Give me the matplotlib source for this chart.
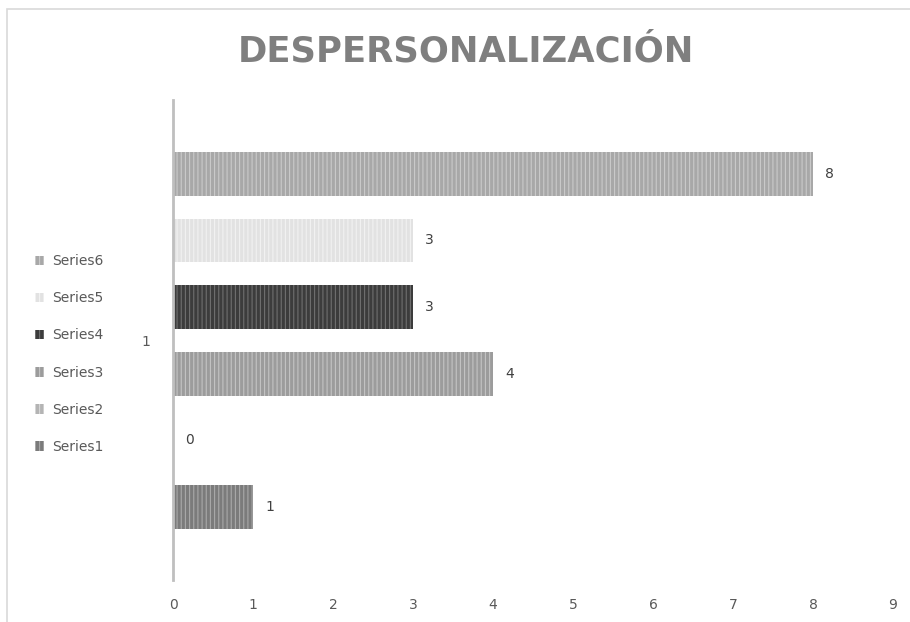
import numpy as np
import matplotlib.pyplot as plt
from matplotlib.patches import Rectangle

plt.rcParams['hatch.linewidth'] = 0.8

# datos del grafico
series = ['Series1', 'Series2', 'Series3', 'Series4', 'Series5', 'Series6']
valores = [1, 0, 4, 3, 3, 8]
colores = ['#7b7b7b', '#b4b4b4', '#9c9c9c', '#3c3c3c', '#e2e2e2', '#a8a8a8']
rayas = ['#a9a9a9', '#d6d6d6', '#c4c4c4', '#6f6f6f', '#f2f2f2', '#cacaca']
categoria = '1'
ticks_x = list(range(0, 10))

fig = plt.figure(figsize=(9.1, 6.22), dpi=100)
fig.patches.append(Rectangle((7 / 910, -0.01), 1.1, 1 - 9 / 622 + 0.01, transform=fig.transFigure,
                             fill=False, edgecolor='#d9d9d9', linewidth=1.2))
ax = fig.add_axes([173 / 910, 1 - 580 / 622, 720 / 910, 480 / 622])

pos = np.arange(len(series))
for i, (s, v) in enumerate(zip(series, valores)):
    ax.barh(pos[i], v, height=0.66, color=colores[i], edgecolor=rayas[i], hatch='||||',
            linewidth=0, label=s)
    ax.text(v + 0.15, pos[i], str(v), va='center', ha='left', fontsize=10, color='#404040')

ax.set_xlim(0, 9)
ax.set_ylim(-1.1, 6.11)
ax.set_xticks(ticks_x)
ax.tick_params(axis='x', length=0, pad=13, labelsize=10, labelcolor='#595959')
ax.set_yticks([2.5])
ax.set_yticklabels([categoria])
ax.tick_params(axis='y', length=0, pad=16, labelsize=10, labelcolor='#595959')
for lado in ['top', 'right', 'bottom']:
    ax.spines[lado].set_visible(False)
ax.spines['left'].set_color('#bfbfbf')
ax.spines['left'].set_linewidth(2)

h, l = ax.get_legend_handles_labels()
leg = fig.legend(h[::-1], l[::-1], loc='center left', bbox_to_anchor=(22 / 910, 1 - 354 / 622),
                 frameon=False, fontsize=10, handlelength=0.7, handleheight=0.7,
                 handletextpad=0.55, labelspacing=1.66, labelcolor='#595959')

fig.text(466 / 910, 1 - 52 / 622, 'DESPERSONALIZACIÓN', ha='center', va='center',
         fontsize=25.5, fontweight='bold', color='#7f7f7f')

fig.savefig('out.png', dpi=100)
